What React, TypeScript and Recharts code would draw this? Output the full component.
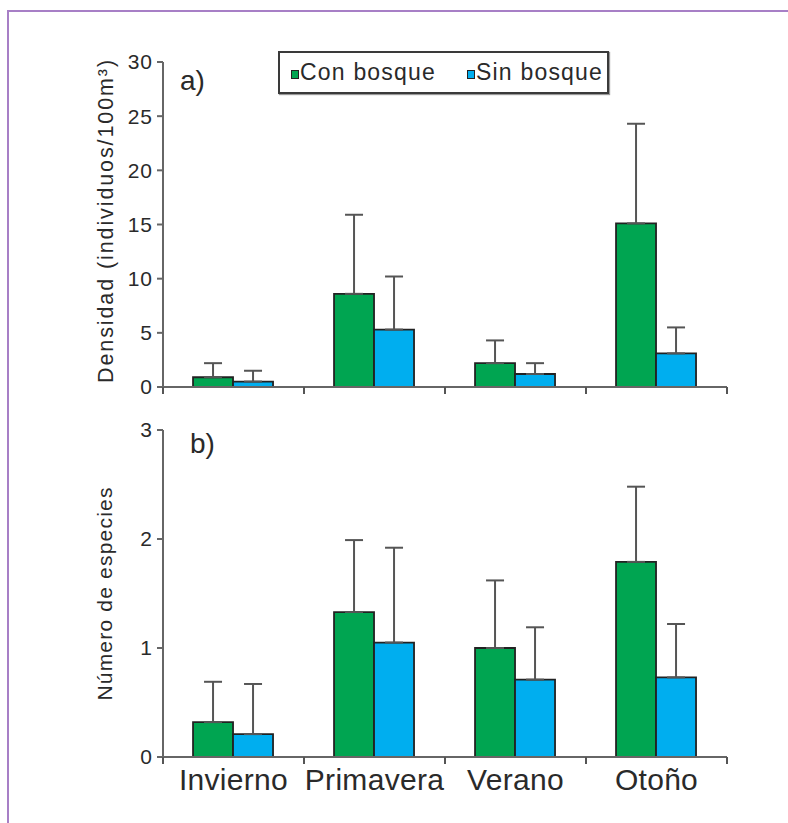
import React from "react";
import { BarChart, Bar, XAxis, YAxis, ErrorBar, Legend, Label } from "recharts";

const seasons = ["Invierno", "Primavera", "Verano", "Otoño"];

const densConBosque = [0.9, 8.6, 2.2, 15.1];
const densConBosqueErr = [1.3, 7.3, 2.1, 9.2];
const densSinBosque = [0.5, 5.3, 1.2, 3.1];
const densSinBosqueErr = [1.0, 4.9, 1.0, 2.4];

const espConBosque = [0.32, 1.33, 1.0, 1.79];
const espConBosqueErr = [0.37, 0.66, 0.62, 0.69];
const espSinBosque = [0.21, 1.05, 0.71, 0.73];
const espSinBosqueErr = [0.46, 0.87, 0.48, 0.49];

const densTicks = [0, 5, 10, 15, 20, 25, 30];
const espTicks = [0, 1, 2, 3];

const seriesNames = ["Con bosque", "Sin bosque"];
const GREEN = "#00a551";
const BLUE = "#00aeef";
const FONT = "'Liberation Sans', Arial, sans-serif";

const densData = seasons.map((s, i) => ({
  season: s,
  con: densConBosque[i],
  conErr: [0, densConBosqueErr[i]],
  sin: densSinBosque[i],
  sinErr: [0, densSinBosqueErr[i]],
}));

const espData = seasons.map((s, i) => ({
  season: s,
  con: espConBosque[i],
  conErr: [0, espConBosqueErr[i]],
  sin: espSinBosque[i],
  sinErr: [0, espSinBosqueErr[i]],
}));

const makeTick = (showLabel: boolean) => (props: any) => {
  const { x, y, payload, index, visibleTicksCount } = props;
  const half = payload && payload.offset ? payload.offset : 70.5;
  const isLast = index === (visibleTicksCount ?? 4) - 1;
  return (
    <g>
      <line x1={x - half} x2={x - half} y1={y} y2={y + 7} stroke="#555" strokeWidth={2} />
      {isLast && (
        <line x1={x + half} x2={x + half} y1={y} y2={y + 7} stroke="#555" strokeWidth={2} />
      )}
      {showLabel && (
        <text
          x={x}
          y={y + 33}
          textAnchor="middle"
          fill="#2a2a2a"
          fontSize={30}
          fontFamily={FONT}
          letterSpacing={0.3}
        >
          {payload.value}
        </text>
      )}
    </g>
  );
};

const legendContent = () => (
  <div
    style={{
      width: 327,
      height: 39,
      border: "2px solid #3a3a3a",
      boxShadow: "1px 1px 1px #999",
      background: "#fff",
      position: "relative",
      fontFamily: FONT,
      fontSize: 23,
      color: "#2a2a2a",
      letterSpacing: 1.2,
    }}
  >
    {seriesNames.map((n, i) => (
      <div
        key={n}
        style={{
          position: "absolute",
          left: i === 0 ? 11 : 187,
          top: 6,
          display: "flex",
          alignItems: "center",
          whiteSpace: "nowrap",
          lineHeight: "27px",
        }}
      >
        <span
          style={{
            display: "inline-block",
            width: 6,
            height: 7,
            background: i === 0 ? GREEN : BLUE,
            border: "1px solid #222",
            marginRight: 1,
            marginTop: 3,
          }}
        />
        {n}
      </div>
    ))}
  </div>
);

const yTick = { fill: "#2a2a2a", fontSize: 21, fontFamily: FONT, letterSpacing: 1 };

export default function App() {
  return (
    <div
      style={{
        position: "absolute",
        left: 0,
        top: 0,
        width: 788,
        height: 823,
        overflow: "hidden",
        background: "#fff",
        fontFamily: FONT,
      }}
    >
      <div
        style={{
          position: "absolute",
          left: 7,
          top: 10,
          width: 800,
          height: 830,
          borderTop: "2px solid #a77fc6",
          borderLeft: "2px solid #a77fc6",
        }}
      />
      <div style={{ position: "absolute", left: 0, top: 0 }}>
        <BarChart
          width={788}
          height={410}
          data={densData}
          margin={{ top: 62, right: 61, left: 0, bottom: 0 }}
          barCategoryGap="21.3%"
          barGap={0}
        >
          <XAxis
            dataKey="season"
            height={23}
            axisLine={{ stroke: "#666", strokeWidth: 2 }}
            tickLine={false}
            tickSize={0}
            tickMargin={0}
            interval={0}
            tick={makeTick(false)}
          />
          <YAxis
            width={163}
            domain={[0, 30]}
            ticks={densTicks}
            interval={0}
            axisLine={{ stroke: "#666", strokeWidth: 2 }}
            tickLine={{ stroke: "#666", strokeWidth: 2 }}
            tickSize={6}
            tickMargin={4}
            tick={yTick}
          >
            <Label
              value="Densidad (individuos/100m³)"
              angle={-90}
              position="insideLeft"
              offset={105}
              dy={-4}
              style={{ textAnchor: "middle", fill: "#2a2a2a", fontSize: 21.5, fontFamily: FONT, letterSpacing: 1.9 }}
            />
          </YAxis>
          <Legend
            layout="horizontal"
            verticalAlign="middle"
            align="center"
            wrapperStyle={{ top: 51, left: 278, width: 331, height: 43 }}
            content={legendContent}
          />
          <Bar dataKey="con" name={seriesNames[0]} fill={GREEN} stroke="#222" strokeWidth={1.8} isAnimationActive={false}>
            <ErrorBar dataKey="conErr" direction="y" width={9} stroke="#555" strokeWidth={2} />
          </Bar>
          <Bar dataKey="sin" name={seriesNames[1]} fill={BLUE} stroke="#222" strokeWidth={1.8} isAnimationActive={false}>
            <ErrorBar dataKey="sinErr" direction="y" width={9} stroke="#555" strokeWidth={2} />
          </Bar>
          <text x={180} y={90} fontSize={28} fill="#2a2a2a" fontFamily={FONT}>a)</text>
        </BarChart>
      </div>
      <div style={{ position: "absolute", left: 0, top: 400 }}>
        <BarChart
          width={788}
          height={423}
          data={espData}
          margin={{ top: 30, right: 61, left: 0, bottom: 0 }}
          barCategoryGap="21.3%"
          barGap={0}
        >
          <XAxis
            dataKey="season"
            height={66}
            axisLine={{ stroke: "#666", strokeWidth: 2 }}
            tickLine={false}
            tickSize={0}
            tickMargin={0}
            interval={0}
            tick={makeTick(true)}
          />
          <YAxis
            width={163}
            domain={[0, 3]}
            ticks={espTicks}
            interval={0}
            axisLine={{ stroke: "#666", strokeWidth: 2 }}
            tickLine={{ stroke: "#666", strokeWidth: 2 }}
            tickSize={6}
            tickMargin={4}
            tick={yTick}
          >
            <Label
              value="Número de especies"
              angle={-90}
              position="insideLeft"
              offset={105}
              style={{ textAnchor: "middle", fill: "#2a2a2a", fontSize: 21, fontFamily: FONT, letterSpacing: 1.2 }}
            />
          </YAxis>
          <Bar dataKey="con" name={seriesNames[0]} fill={GREEN} stroke="#222" strokeWidth={1.8} isAnimationActive={false}>
            <ErrorBar dataKey="conErr" direction="y" width={9} stroke="#555" strokeWidth={2} />
          </Bar>
          <Bar dataKey="sin" name={seriesNames[1]} fill={BLUE} stroke="#222" strokeWidth={1.8} isAnimationActive={false}>
            <ErrorBar dataKey="sinErr" direction="y" width={9} stroke="#555" strokeWidth={2} />
          </Bar>
          <text x={190} y={453} fontSize={28} fill="#2a2a2a" fontFamily={FONT} transform="translate(0,-400)">b)</text>
        </BarChart>
      </div>
    </div>
  );
}
